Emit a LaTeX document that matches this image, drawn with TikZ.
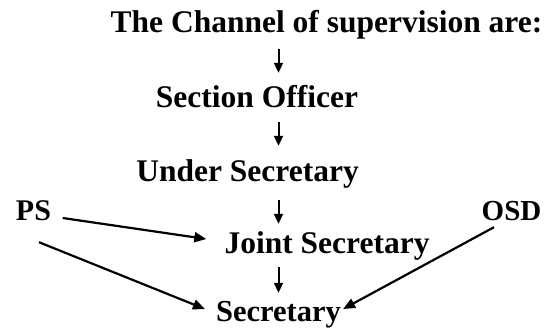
\documentclass[tikz,border=0pt]{standalone}
\usepackage{fontspec}
\setmainfont{Liberation Serif}
\usetikzlibrary{arrows.meta,calc}
\begin{document}
\begin{tikzpicture}[x=1pt,y=-1pt,
  lbl/.style={inner sep=0pt, anchor=base, text height=21pt, text depth=7pt,
    font=\bfseries\fontsize{31.5}{31.5}\selectfont},
  varr/.style={-{Triangle[length=10pt,width=9pt]}, line width=2pt},
  darr/.style={-{Triangle[length=12pt,width=10pt]}, line width=2.2pt}]
\useasboundingbox (0,0) rectangle (545,334);
\node[lbl] (title) at (326.5,33) {The Channel of supervision are:};
\node[lbl] (so) at (257,107) {Section Officer};
\node[lbl] (us) at (247.5,181) {Under Secretary};
\node[lbl, font=\bfseries\fontsize{30}{30}\selectfont] (ps) at (33.5,220) {PS};
\node[lbl, font=\bfseries\fontsize{29}{29}\selectfont] (osd) at (511.5,220) {OSD};
\node[lbl] (js) at (327,253) {Joint Secretary};
\node[lbl, font=\bfseries\fontsize{30.5}{30.5}\selectfont] (sec) at (278.5,321) {Secretary};
% vertical arrows
\draw[varr, shorten <=9pt, shorten >=13pt] (title.south -| sec.north) -- (so.north -| sec.north);
\draw[varr, shorten <=8pt, shorten >=14pt] (so.south -| sec.north) -- (us.north -| sec.north);
\draw[varr, shorten <=12pt, shorten >=8pt] (us.south -| sec.north) -- (js.north -| sec.north);
\draw[varr, shorten <=7pt, shorten >=7pt] (js.south -| sec.north) -- (sec.north);
% diagonal arrows
\draw[darr] ($(ps.base east)+(11.5,-2)$) -- ($(js.base west)+(-18,-14)$);
\draw[darr] ($(ps.south)+(5.5,15)$) -- ($(sec.base west)+(-11,-12)$);
\draw[darr] ($(osd.south)+(-17.5,0)$) -- ($(sec.base east)+(2,-12)$);
\end{tikzpicture}
\end{document}
